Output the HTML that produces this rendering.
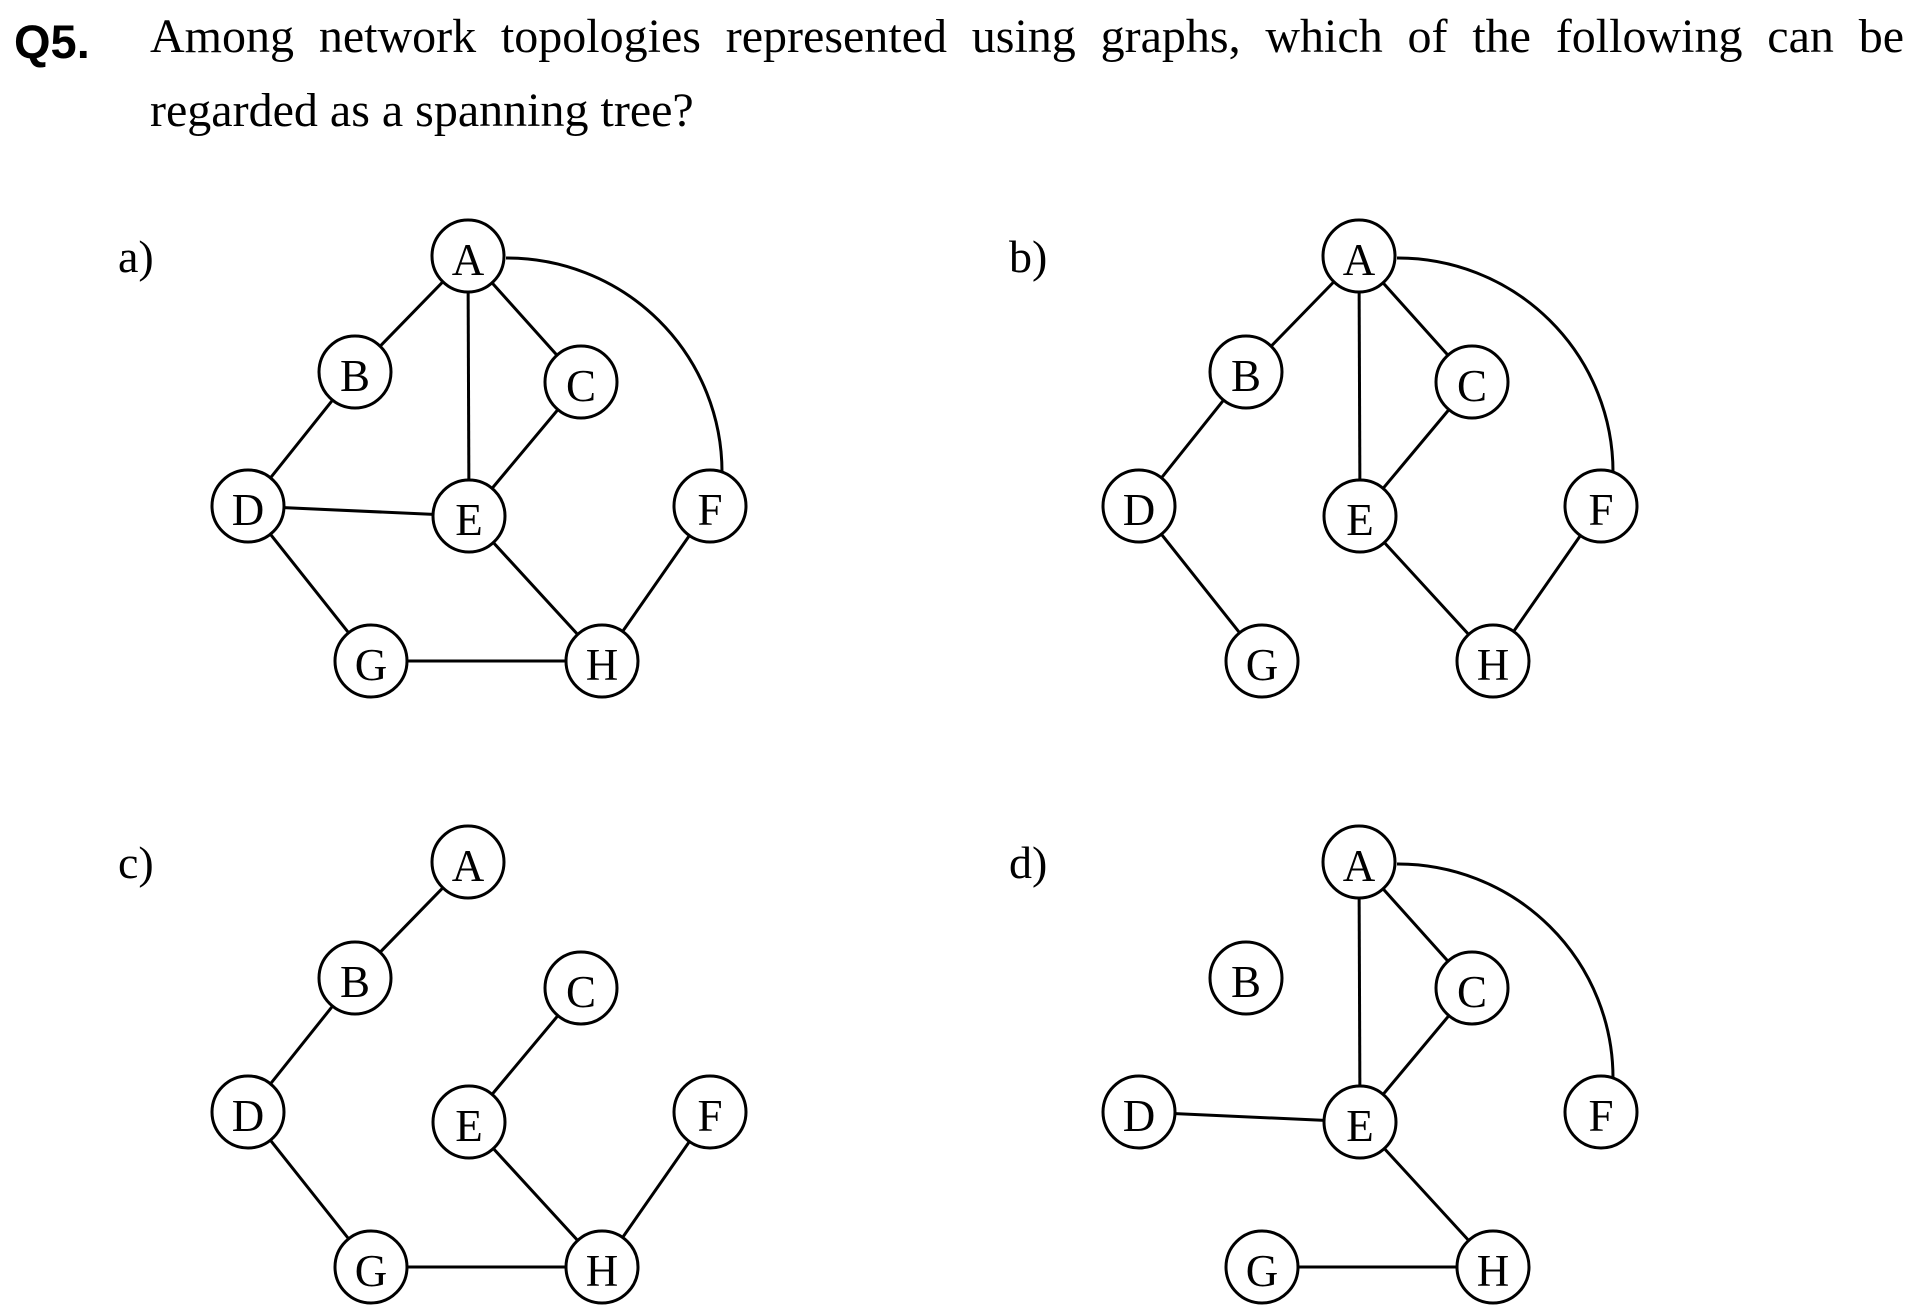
<!DOCTYPE html>
<html><head><meta charset="utf-8"><style>
html,body{margin:0;padding:0;background:#fff;}
body{width:1919px;height:1315px;position:relative;overflow:hidden;}
.q{position:absolute;left:14px;top:14px;font:bold 47px "Liberation Sans",sans-serif;}
.t{position:absolute;left:150px;top:0px;width:1754px;font:48px/74px "Liberation Serif",serif;text-align:justify;}
svg{position:absolute;left:0;top:0;}
</style></head><body>
<div class="q">Q5.</div>
<div class="t">Among network topologies represented using graphs, which of the following can be regarded as a spanning tree?</div>
<svg width="1919" height="1315" viewBox="0 0 1919 1315" font-family="Liberation Serif, serif">
<g id="all" stroke="#000" stroke-width="3" fill="none"></g>
<g id="labels" font-size="45" fill="#000"></g>
</svg>
<script>
const N={A:[468,256],B:[355,372],C:[581,382],D:[248,506],E:[469,516],F:[710,506],G:[371,661],H:[602,661]};
const graphs=[
 {dx:0,dy:0,l:"a)",e:["AB","AE","AC","BD","CE","DE","EH","DG","GH","HF"],arc:true},
 {dx:891,dy:0,l:"b)",e:["AB","AE","AC","BD","CE","EH","DG","HF"],arc:true},
 {dx:0,dy:606,l:"c)",e:["AB","BD","DG","GH","CE","EH","HF"],arc:false},
 {dx:891,dy:606,l:"d)",e:["AE","AC","DE","CE","EH","GH"],arc:true}];
let s="",t="";const r=36;
for(const g of graphs){
 t+=`<text x="${118+g.dx}" y="${272+g.dy}" font-size="46">${g.l}</text>`;
 for(const e of g.e){const a=N[e[0]],b=N[e[1]];
  s+=`<line x1="${a[0]+g.dx}" y1="${a[1]+g.dy}" x2="${b[0]+g.dx}" y2="${b[1]+g.dy}"/>`;}
 if(g.arc){s+=`<path d="M ${506+g.dx} ${258+g.dy} A 215 214 0 0 1 ${722+g.dx} ${472+g.dy}"/>`;}
 for(const k in N){const p=N[k];
  s+=`<circle cx="${p[0]+g.dx}" cy="${p[1]+g.dy}" r="${r}" fill="#fff"/>`;
  t+=`<text x="${p[0]+g.dx}" y="${p[1]+g.dy+19}" text-anchor="middle">${k}</text>`;}
}
document.getElementById("all").innerHTML=s;
document.getElementById("labels").innerHTML=t;
</script>
</body></html>
